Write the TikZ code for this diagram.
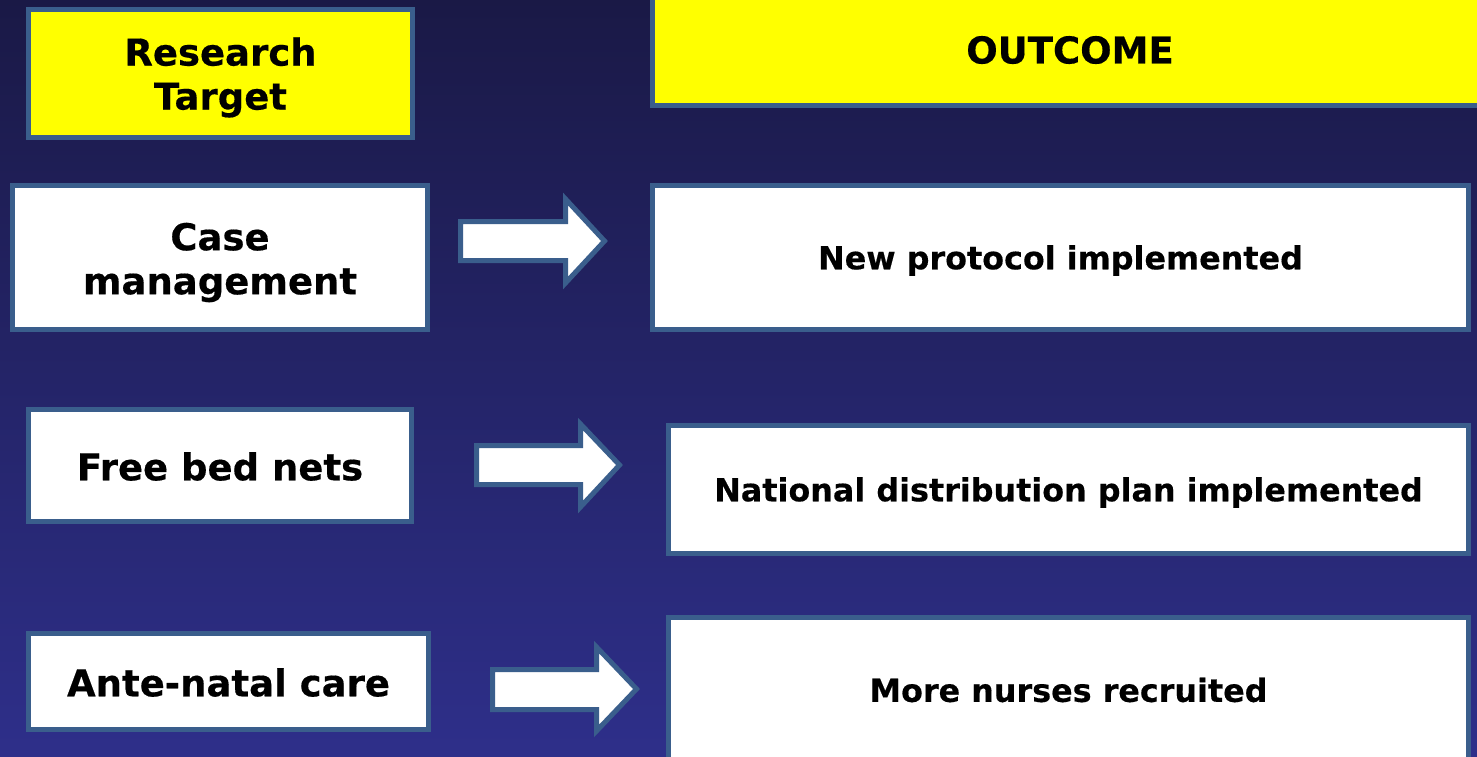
\documentclass[tikz,border=0pt]{standalone}
\usepackage{fontspec}
\setmainfont{DejaVu Sans}[BoldFeatures={FakeBold=0.4}]
\definecolor{bgtop}{RGB}{26,25,70}
\definecolor{bgbot}{RGB}{46,47,138}
\definecolor{edge}{RGB}{58,94,140}
\definecolor{hdr}{RGB}{255,255,0}
\tikzset{
  box/.style={rectangle, draw=edge, line width=5pt, fill=white, inner sep=0pt},
  hbox/.style={box, fill=hdr},
  bigtxt/.style={inner sep=0pt, align=center, text=black, font=\bfseries\fontsize{37}{44}\selectfont},
  smalltxt/.style={inner sep=0pt, align=center, text=black, font=\bfseries\fontsize{31.8}{38}\selectfont},
  blockarrow/.style={draw=edge, line width=5pt, fill=white, line join=miter},
}
\begin{document}
\begin{tikzpicture}[x=1pt, y=-1pt]
\useasboundingbox (0,0) rectangle (1477,756);
\shade[top color=bgtop, bottom color=bgbot] (0,0) rectangle (1477,756);
\begin{scope}
\clip (0,0) rectangle (1477,756);
% headers
\node[hbox, minimum width=384pt, minimum height=128pt] (rt) at (220.5,73.5) {};
\node[bigtxt] (rt-t) at ([yshift=-4pt]rt.center) {Research\\Target};
\node[hbox, minimum width=835pt, minimum height=113pt] (out) at (1070,49) {};
\node[bigtxt] (out-t) at ([yshift=-1pt]out.center) {OUTCOME};
% left column
\node[box, minimum width=415pt, minimum height=144pt] (cm) at (220,257.5) {};
\node[bigtxt] (cm-t) at ([yshift=-5pt]cm.center) {Case\\management};
\node[box, minimum width=383pt, minimum height=112pt] (fb) at (220,465.5) {};
\node[bigtxt] (fb-t) at ([yshift=-1pt]fb.center) {Free bed nets};
\node[box, minimum width=400pt, minimum height=96pt] (an) at (228.5,681.5) {};
\node[bigtxt] (an-t) at ([yshift=-1pt]an.center) {Ante-natal care};
% right column
\node[box, minimum width=816pt, minimum height=144pt] (np) at (1060.5,257.5) {};
\node[smalltxt] (np-t) at ([yshift=-3pt]np.center) {New protocol implemented};
\node[box, minimum width=800pt, minimum height=128pt] (nd) at (1068.5,489.5) {};
\node[smalltxt] (nd-t) at ([yshift=-3pt]nd.center) {National distribution plan implemented};
\node[box, minimum width=800pt, minimum height=145pt] (mn) at (1068.5,690) {};
\node[smalltxt] (mn-t) at (mn.center) {More nurses recruited};
% block arrows
\draw[blockarrow] (460.5,221.5) -- (565.5,221.5) -- (565.5,199) -- (604.5,241) -- (565.5,283) -- (565.5,260.5) -- (460.5,260.5) -- cycle;
\draw[blockarrow] (476.5,445.5) -- (580.5,445.5) -- (580.5,424) -- (619.5,465) -- (580.5,507) -- (580.5,484.5) -- (476.5,484.5) -- cycle;
\draw[blockarrow] (492.5,669.5) -- (596.5,669.5) -- (596.5,647) -- (636.5,689) -- (596.5,731) -- (596.5,709.5) -- (492.5,709.5) -- cycle;
\end{scope}
\end{tikzpicture}
\end{document}
